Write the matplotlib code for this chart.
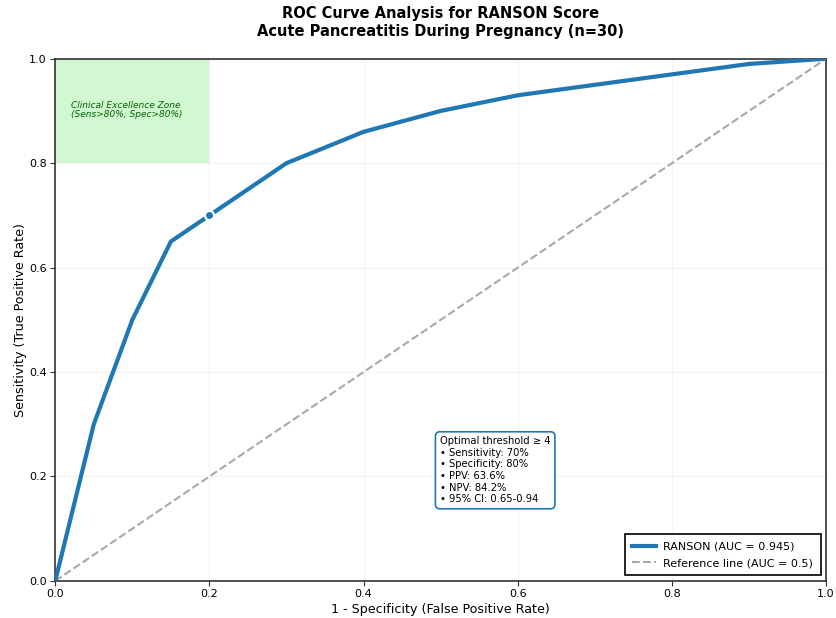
import matplotlib
matplotlib.use('Agg')
import matplotlib.pyplot as plt
import matplotlib.patches as patches

# ROC points for the RANSON score
fpr = [0.0, 0.05, 0.1, 0.15, 0.2, 0.3, 0.4, 0.5, 0.6, 0.7, 0.8, 0.9, 1.0]
tpr = [0.0, 0.30, 0.50, 0.65, 0.70, 0.80, 0.86, 0.90, 0.93, 0.95, 0.97, 0.99, 1.0]
auc = 0.945

# optimal cut-off (threshold >= 4)
opt_fpr = 0.2
opt_tpr = 0.7

fig, ax = plt.subplots(figsize=(8.37, 6.18), dpi=100)
fig.subplots_adjust(left=0.066, right=0.987, bottom=0.06, top=0.905)

zone = patches.Rectangle((0, 0.8), 0.2, 0.2, facecolor='lightgreen', alpha=0.4, edgecolor='none', zorder=0)
ax.add_patch(zone)
ax.text(0.02, 0.902, 'Clinical Excellence Zone\n(Sens>80%, Spec>80%)', fontsize=6.5,
        style='italic', color='darkgreen', va='center', linespacing=0.95)

ax.plot(fpr, tpr, color='#1f77b4', lw=3, label='RANSON (AUC = %.3f)' % auc, zorder=3)
ax.plot([0, 1], [0, 1], color='darkgray', ls='--', lw=1.5, label='Reference line (AUC = 0.5)', zorder=2)
ax.plot(opt_fpr, opt_tpr, 'o', color='#1f77b4', markeredgecolor='white', markersize=6.5,
        markeredgewidth=1.5, zorder=4)

info = ('Optimal threshold \u2265 4\n'
        '\u2022 Sensitivity: 70%\n'
        '\u2022 Specificity: 80%\n'
        '\u2022 PPV: 63.6%\n'
        '\u2022 NPV: 84.2%\n'
        '\u2022 95% CI: 0.65-0.94')
ax.text(0.499, 0.277, info, fontsize=7.2, va='top', ha='left', linespacing=1.2,
        bbox=dict(boxstyle='round,pad=0.45', facecolor='white', edgecolor='#1f77b4', lw=1.2))

ax.set_xlim(0, 1)
ax.set_ylim(0, 1)
ax.grid(True, alpha=0.15)
ax.set_xlabel('1 - Specificity (False Positive Rate)', fontsize=9.1, labelpad=2.5)
ax.set_ylabel('Sensitivity (True Positive Rate)', fontsize=9.1, labelpad=1.5)
ax.set_title('ROC Curve Analysis for RANSON Score\nAcute Pancreatitis During Pregnancy (n=30)',
             fontsize=10.5, fontweight='bold', linespacing=1.25, pad=16)
ax.tick_params(labelsize=8, length=3.5, pad=2.5, color='#333333')
for s in ax.spines.values():
    s.set_linewidth(1.2)
    s.set_color('#333333')

leg = ax.legend(loc='lower right', fontsize=8, fancybox=False, edgecolor='black', framealpha=1,
                handlelength=2.1, handletextpad=0.7, borderpad=0.65, labelspacing=0.6)
leg.get_frame().set_linewidth(1.2)

fig.savefig('out.png', dpi=100)
